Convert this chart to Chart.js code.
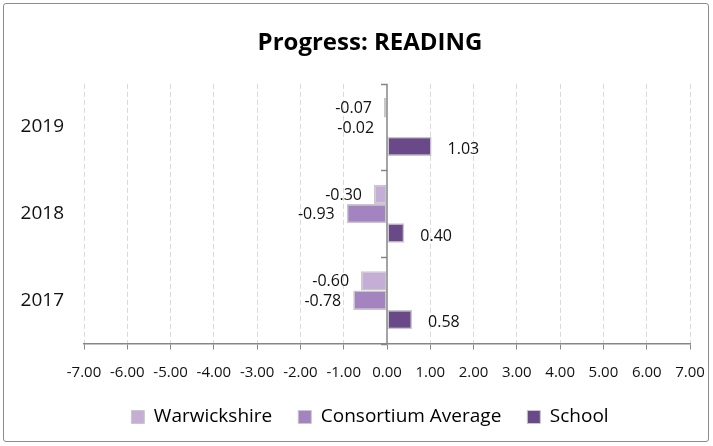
<!DOCTYPE html>
<html>
<head>
<meta charset="utf-8">
<script src="https://cdn.jsdelivr.net/npm/chart.js@4/dist/chart.umd.min.js"></script>
<style>
html,body{margin:0;padding:0;background:#fff;}
#box{position:absolute;left:3px;top:3px;width:706px;height:439px;border:1px solid #8c8c8c;border-radius:3px;box-sizing:border-box;overflow:hidden;}
#wrap{position:absolute;left:0;top:0;width:704px;height:437px;}
</style>
</head>
<body>
<div id="box"><div id="wrap"><canvas id="c"></canvas></div></div>
<script>
const categories = ['2019', '2018', '2017'];
const seriesNames = ['Warwickshire', 'Consortium Average', 'School'];
const warwickshire = [-0.07, -0.30, -0.60];
const consortium = [-0.02, -0.93, -0.78];
const school = [1.03, 0.40, 0.58];
const xTicks = [-7, -6, -5, -4, -3, -2, -1, 0, 1, 2, 3, 4, 5, 6, 7];
const colors = ['#C5AED6', '#A383C0', '#6A4988'];

const FONT = '"Open Sans", "Noto Sans", sans-serif';

const labelPlugin = {
  id: 'valueLabels',
  afterDatasetsDraw(chart) {
    const ctx = chart.ctx;
    ctx.save();
    ctx.font = '16px ' + FONT;
    ctx.fillStyle = '#111';
    ctx.textBaseline = 'middle';
    chart.data.datasets.forEach((ds, di) => {
      const meta = chart.getDatasetMeta(di);
      meta.data.forEach((bar, i) => {
        const v = ds.data[i];
        const txt = v.toFixed(2);
        if (v < 0) {
          ctx.textAlign = 'right';
          ctx.fillText(txt, bar.x - 12, bar.y + 1);
        } else {
          ctx.textAlign = 'left';
          ctx.fillText(txt, bar.x + 16, bar.y + 3);
        }
      });
    });
    ctx.restore();
  }
};

const zeroTicksPlugin = {
  id: 'zeroTicks',
  afterDatasetsDraw(chart) {
    const ctx = chart.ctx;
    const xs = chart.scales.x, ys = chart.scales.y;
    const x0 = xs.getPixelForValue(0);
    const n = categories.length;
    const step = (ys.bottom - ys.top) / n;
    ctx.save();
    ctx.strokeStyle = '#868686';
    ctx.lineWidth = 1.5;
    ctx.beginPath();
    ctx.moveTo(x0, ys.top);
    ctx.lineTo(x0, ys.bottom);
    for (let i = 0; i <= n; i++) {
      const y = Math.round(ys.top + step * i) + 0.5;
      ctx.moveTo(x0 - 6, y);
      ctx.lineTo(x0, y);
    }
    ctx.stroke();
    ctx.restore();
  }
};

new Chart(document.getElementById('c'), {
  type: 'bar',
  data: {
    labels: categories,
    datasets: [
      { label: seriesNames[0], data: warwickshire, backgroundColor: colors[0] },
      { label: seriesNames[1], data: consortium, backgroundColor: colors[1] },
      { label: seriesNames[2], data: school, backgroundColor: colors[2] }
    ].map(d => Object.assign(d, {
      borderColor: '#C8C8C8', borderWidth: 1.5, borderSkipped: false,
      categoryPercentage: 0.67, barPercentage: 1.0
    }))
  },
  options: {
    indexAxis: 'y',
    responsive: true,
    maintainAspectRatio: false,
    animation: false,
    devicePixelRatio: 1,
    layout: { padding: { top: 12, right: -28, bottom: 4.5, left: 0 } },
    plugins: {
      title: {
        display: true,
        text: 'Progress: READING',
        color: '#000',
        font: { family: FONT, size: 24, weight: 'bold' },
        padding: { top: 13, bottom: 26 }
      },
      legend: {
        position: 'bottom',
        labels: {
          color: '#1a1a1a',
          font: { family: FONT, size: 19 },
          boxWidth: 13,
          boxHeight: 13,
          padding: 26,
          generateLabels(chart) {
            return chart.data.datasets.map((d, i) => ({
              text: d.label, fillStyle: d.backgroundColor, strokeStyle: '#C8C8C8',
              lineWidth: 1, datasetIndex: i, hidden: false
            }));
          }
        }
      },
      tooltip: { enabled: false }
    },
    scales: {
      x: {
        min: -7, max: 7,
        afterBuildTicks(scale) { scale.ticks = xTicks.map(v => ({ value: v })); },
        afterFit(scale) { scale.paddingRight = 18; scale.paddingLeft = 0; scale.height = 38; },
        ticks: {
          autoSkip: false, maxRotation: 0, minRotation: 0,
          color: '#111', font: { family: FONT, size: 15 }, padding: 14,
          callback: v => Number(v).toFixed(2)
        },
        grid: {
          color: c => (c.tick && c.tick.value === 0) ? 'rgba(0,0,0,0)' : '#D9D9D9',
          tickColor: '#868686', tickLength: 6, tickBorderDash: [], lineWidth: 1
        },
        border: {
          display: true, color: '#868686', width: 1.5,
          dash: c => (c.tick && c.tick.value === 0) ? [] : [5, 3]
        }
      },
      y: {
        ticks: { color: '#111', font: { family: FONT, size: 19 }, padding: 20 },
        grid: { display: false, drawTicks: false },
        border: { display: false },
        afterFit(scale) { scale.width = 80; }
      }
    }
  },
  plugins: [labelPlugin, zeroTicksPlugin]
});
</script>
</body>
</html>
